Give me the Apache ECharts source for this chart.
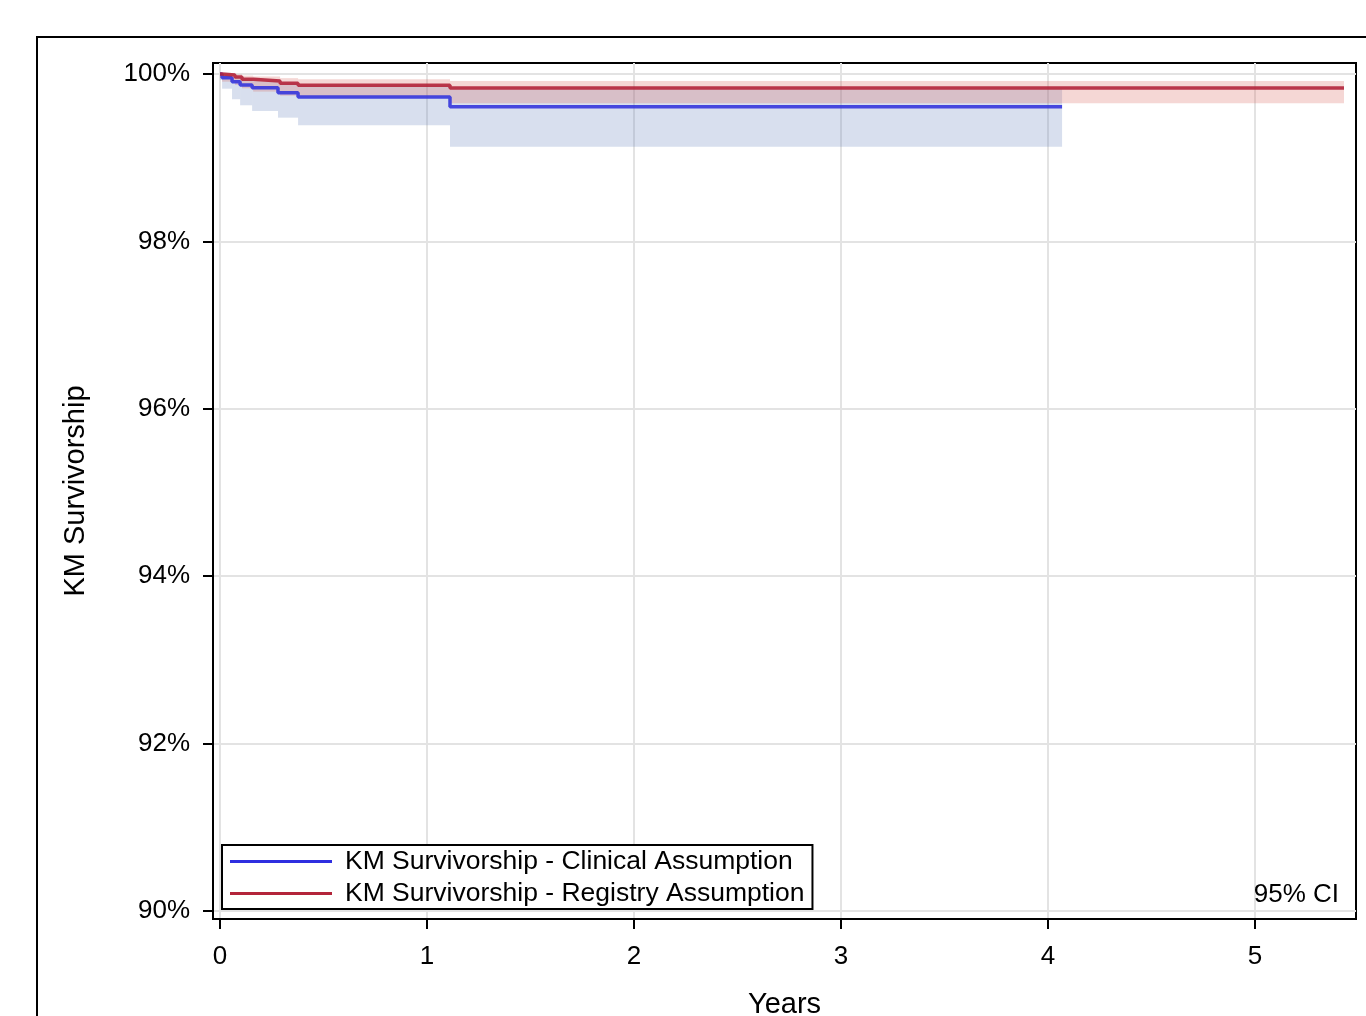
<!DOCTYPE html>
<html>
<head>
<meta charset="utf-8">
<script src="https://cdn.jsdelivr.net/npm/echarts@6/dist/echarts.min.js"></script>
<style>html,body{margin:0;padding:0;background:#fff;}#c{width:1366px;height:1016px;}</style>
</head>
<body>
<div id="c"></div>
<script>
// ---- data ----
const blueTimes = [0, 0.01, 0.058, 0.097, 0.155, 0.28, 0.377, 1.111, 4.068];
const blueSurv  = [100, 99.956, 99.908, 99.869, 99.836, 99.777, 99.725, 99.609, 99.609];
const blueLower = [99.93, 99.824, 99.698, 99.626, 99.558, 99.478, 99.387, 99.131];
const blueUpper = [100, 99.99, 99.96, 99.935, 99.915, 99.89, 99.865, 99.817];

const redTimes = [0, 0.01, 0.072, 0.106, 0.16, 0.29, 0.377, 1.111, 5.43];
const redSurv  = [100, 99.988, 99.964, 99.937, 99.916, 99.889, 99.865, 99.833, 99.833];
const redLower = [99.95, 99.908, 99.869, 99.829, 99.789, 99.74, 99.73, 99.65];
const redUpper = [100, 100, 99.995, 99.98, 99.97, 99.95, 99.937, 99.916];

const xTicks = [0, 1, 2, 3, 4, 5];
const yTicks = [90, 92, 94, 96, 98, 100];

const nameBlue = 'KM Survivorship - Clinical Assumption';
const nameRed = 'KM Survivorship - Registry Assumption';

// ---- build ----
function bandData(times, lo, hi) {
  const d = [];
  for (let i = 0; i < lo.length; i++) d.push([times[i], times[i + 1], lo[i], hi[i]]);
  return d;
}
function lineData(times, surv) {
  return times.map((t, i) => [t, surv[i]]);
}
function bandSeries(data, color) {
  return {
    type: 'custom',
    silent: true,
    data: data,
    encode: { x: [0, 1], y: [2, 3] },
    z: 1,
    renderItem: function (params, api) {
      const p1 = api.coord([api.value(0), api.value(3)]);
      const p2 = api.coord([api.value(1), api.value(2)]);
      return {
        type: 'rect',
        shape: { x: p1[0], y: p1[1], width: p2[0] - p1[0], height: p2[1] - p1[1] },
        style: { fill: color }
      };
    }
  };
}

const FONT = "'Liberation Sans', Arial, Helvetica, sans-serif";
const chart = echarts.init(document.getElementById('c'));
chart.setOption({
  animation: false,
  backgroundColor: '#fff',
  textStyle: { fontFamily: FONT },
  grid: {
    left: 213, top: 63, right: 10, bottom: 97,
    outerBoundsMode: 'none', containLabel: false,
    show: true, borderColor: '#000', borderWidth: 2, backgroundColor: 'transparent'
  },
  graphic: [
    {
      type: 'rect', z: -10, silent: true,
      shape: { x: 37, y: 37, width: 1400, height: 1100 },
      style: { fill: 'none', stroke: '#000', lineWidth: 2 }
    },
    {
      type: 'text', z: 50, silent: true,
      style: { x: 1339, y: 895, text: '95% CI', align: 'right', verticalAlign: 'middle',
        font: "26px " + FONT, fill: '#000' }
    }
  ],
  legend: {
    left: 222, top: 845, orient: 'vertical',
    data: [{ name: nameBlue, icon: 'rect' }, { name: nameRed, icon: 'rect' }],
    itemWidth: 102, itemHeight: 3, itemGap: 5,
    padding: [3, 8, 2, 8],
    borderColor: '#000', borderWidth: 2, backgroundColor: '#fff',
    textStyle: { fontSize: 26.5, color: '#000', fontFamily: FONT, lineHeight: 26, padding: [0, 0, 0, 8] }
  },
  xAxis: {
    type: 'value', min: -0.034, max: 5.488,
    name: 'Years', nameLocation: 'middle', nameGap: 71,
    nameTextStyle: { fontSize: 29, color: '#000', fontFamily: FONT },
    axisLine: { show: true, onZero: false, lineStyle: { color: '#000', width: 2 } },
    axisTick: { show: true, length: 10, customValues: xTicks, lineStyle: { color: '#000', width: 2 } },
    axisLabel: { customValues: xTicks, fontSize: 26, color: '#000', margin: 25, formatter: v => String(v) },
    splitLine: { show: true, lineStyle: { color: '#e3e3e3', width: 2 } }
  },
  yAxis: {
    type: 'value', min: 89.904, max: 100.131,
    name: 'KM Survivorship', nameLocation: 'middle', nameGap: 123, nameRotate: 90,
    nameTextStyle: { fontSize: 29, color: '#000', fontFamily: FONT },
    axisLine: { show: true, onZero: false, lineStyle: { color: '#000', width: 2 } },
    axisTick: { show: true, length: 10, customValues: yTicks, lineStyle: { color: '#000', width: 2 } },
    axisLabel: { customValues: yTicks, fontSize: 26, color: '#000', margin: 23, padding: [4, 0, 0, 0], formatter: v => v + '%' },
    splitLine: { show: true, lineStyle: { color: '#e3e3e3', width: 2 } }
  },
  series: [
    bandSeries(bandData(blueTimes, blueLower, blueUpper), 'rgba(99,127,187,0.25)'),
    bandSeries(bandData(redTimes, redLower, redUpper), 'rgba(215,95,87,0.25)'),
    {
      name: nameBlue, type: 'line', step: 'end', symbol: 'none', z: 3,
      data: lineData(blueTimes, blueSurv),
      itemStyle: { color: '#2f2fe0' },
      lineStyle: { color: '#3535dc', width: 3.5, opacity: 0.9 }
    },
    {
      name: nameRed, type: 'line', step: 'end', symbol: 'none', z: 4,
      data: lineData(redTimes, redSurv),
      itemStyle: { color: '#b3243a' },
      lineStyle: { color: '#b3243a', width: 3.5, opacity: 0.9 }
    }
  ]
});
</script>
</body>
</html>
